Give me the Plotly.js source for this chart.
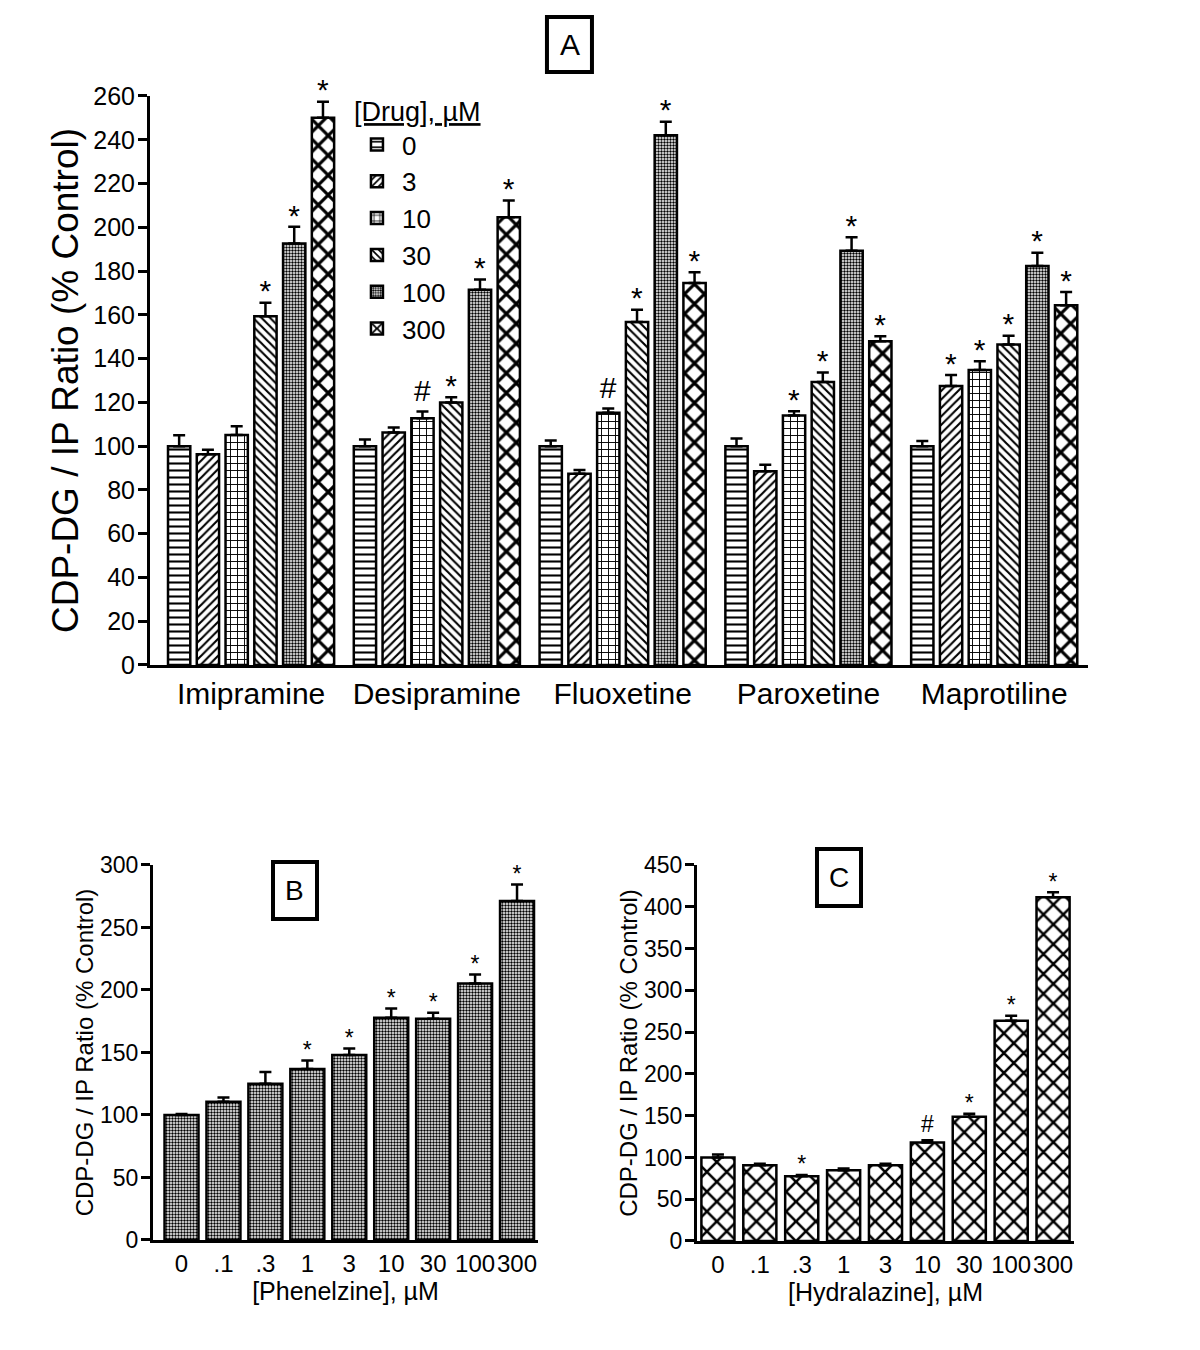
<!DOCTYPE html>
<html><head><meta charset="utf-8">
<script src="https://cdn.plot.ly/plotly-3.0.1.min.js"></script>
<style>html,body{margin:0;padding:0;background:#fff}</style>
</head><body><div id="chart" style="width:1200px;height:1350px"></div>
<script>
// ---------- Panel A data ----------
const drugs = ['Imipramine', 'Desipramine', 'Fluoxetine', 'Paroxetine', 'Maprotiline'];
const doseLabels = ['0', '3', '10', '30', '100', '300'];

const mean0   = [100, 100, 100, 100, 100];
const mean3   = [96.3, 106.2, 87.4, 88.5, 127.5];
const mean10  = [105.1, 112.8, 115.3, 114.0, 134.8];
const mean30  = [159.4, 120.0, 156.7, 129.3, 146.4];
const mean100 = [192.6, 171.5, 242.1, 189.3, 182.3];
const mean300 = [250.1, 204.6, 174.6, 147.9, 164.4];

const err0   = [5.0, 3.0, 2.6, 3.5, 2.3];
const err3   = [2.1, 2.3, 1.7, 3.0, 5.0];
const err10  = [4.0, 3.0, 1.9, 2.0, 4.0];
const err30  = [6.1, 2.3, 5.6, 4.4, 4.1];
const err100 = [7.6, 4.7, 6.1, 6.1, 6.1];
const err300 = [7.3, 7.7, 4.9, 2.3, 6.0];

const sig0   = ['', '', '', '', ''];
const sig3   = ['', '', '', '', '*'];
const sig10  = ['', '#', '#', '*', '*'];
const sig30  = ['*', '*', '*', '*', '*'];
const sig100 = ['*', '*', '*', '*', '*'];
const sig300 = ['*', '*', '*', '*', '*'];

// ---------- Panel B data ----------
const phenelzineDoses = ['0', '.1', '.3', '1', '3', '10', '30', '100', '300'];
const phenelzineMean  = [100, 110.7, 125.0, 136.8, 148.0, 177.9, 177.0, 205.3, 271.2];
const phenelzineErr   = [0.8, 3.4, 9.4, 6.9, 5.3, 7.4, 4.9, 7.2, 13.3];
const phenelzineSig   = ['', '', '', '*', '*', '*', '*', '*', '*'];

// ---------- Panel C data ----------
const hydralazineDoses = ['0', '.1', '.3', '1', '3', '10', '30', '100', '300'];
const hydralazineMean  = [100, 90.6, 77.5, 84.7, 90.6, 117.8, 148.6, 263.6, 411.3];
const hydralazineErr   = [3.4, 2.0, 1.5, 2.0, 2.0, 2.8, 3.6, 6.0, 6.0];
const hydralazineSig   = ['', '', '*', '', '', '#', '*', '*', '*'];

// ---------- styling ----------
const FONT = 'Liberation Sans, Arial, sans-serif';
const means = [mean0, mean3, mean10, mean30, mean100, mean300];
const errs  = [err0, err3, err10, err30, err100, err300];
const sigs  = [sig0, sig3, sig10, sig30, sig100, sig300];
const patterns = [
  {shape: '-',  size: 7,  solidity: 0.3},
  {shape: '/',  size: 6,  solidity: 0.35},
  {shape: '+',  size: 7,  solidity: 0.25},
  {shape: '\\', size: 6,  solidity: 0.35},
  {shape: '.',  size: 3,  solidity: 0.5},
  {shape: 'x',  size: 14, solidity: 0.4}
];

function dataBar(x, y, e, pat, ax, extra) {
  return Object.assign({
    type: 'bar', x: x, y: y, xaxis: ax[0], yaxis: ax[1],
    marker: {color: 'white', line: {color: 'black', width: 2.5},
      pattern: Object.assign({fgcolor: 'black', bgcolor: 'white', fillmode: 'replace'}, pat)},
    error_y: {type: 'data', symmetric: false, array: e, arrayminus: e.map(() => 0),
      color: 'black', thickness: 2.5, width: 6},
    hoverinfo: 'skip'
  }, extra);
}
// starDrop: how far (axis units) the label box is lowered for '*' (glyph sits high in its box)
function sigBar(x, y, e, s, ax, size, starDrop, extra) {
  return Object.assign({
    type: 'bar', x: x, y: y.map(() => 0.5),
    base: y.map((v, i) => v + e[i] - (s[i] === '*' ? starDrop : 0)),
    xaxis: ax[0], yaxis: ax[1], text: s, textposition: 'outside',
    textfont: {family: FONT, size: size, color: 'black'},
    constraintext: 'none', cliponaxis: false,
    marker: {color: 'rgba(0,0,0,0)', line: {width: 0}},
    showlegend: false, hoverinfo: 'skip'
  }, extra);
}

const traces = [];
for (let j = 0; j < doseLabels.length; j++) {
  traces.push(dataBar(drugs, means[j], errs[j], patterns[j], ['x', 'y'],
    {name: doseLabels[j], offsetgroup: 'd' + j, legendgroup: 'd' + j}));
}
for (let j = 0; j < doseLabels.length; j++) {
  traces.push(sigBar(drugs, means[j], errs[j], sigs[j], ['x', 'y'], 30, 4, {offsetgroup: 'd' + j}));
}
traces.push(dataBar(phenelzineDoses, phenelzineMean, phenelzineErr,
  {shape: '.', size: 3, solidity: 0.5}, ['x2', 'y2'], {offsetgroup: 'b', width: 0.81, showlegend: false}));
traces.push(sigBar(phenelzineDoses, phenelzineMean, phenelzineErr, phenelzineSig, ['x2', 'y2'], 23, 5,
  {offsetgroup: 'b', width: 0.81}));
traces.push(dataBar(hydralazineDoses, hydralazineMean, hydralazineErr,
  {shape: 'x', size: 14, solidity: 0.33}, ['x3', 'y3'], {offsetgroup: 'c', width: 0.79, showlegend: false}));
traces.push(sigBar(hydralazineDoses, hydralazineMean, hydralazineErr, hydralazineSig, ['x3', 'y3'], 23, 7,
  {offsetgroup: 'c', width: 0.79}));

const axLine = {showline: true, linecolor: 'black', linewidth: 3, showgrid: false, zeroline: false,
  fixedrange: true};
const yCommon = Object.assign({}, axLine, {ticks: 'outside', ticklen: 9, tickwidth: 3, tickcolor: 'black',
  ticklabelstandoff: -2});
const xCommon = Object.assign({}, axLine, {type: 'category', ticks: '', tickangle: 0});

const layout = {
  width: 1200, height: 1350,
  margin: {l: 0, r: 0, t: 0, b: 0},
  paper_bgcolor: 'white', plot_bgcolor: 'white',
  font: {family: FONT, color: 'black'},
  barmode: 'group', bargap: 0.071, bargroupgap: 0.225,
  xaxis: Object.assign({}, xCommon, {domain: [0.125, 0.9067], range: [-0.544, 4.505], anchor: 'y',
    tickfont: {size: 30}}),
  yaxis: Object.assign({}, yCommon, {domain: [0.50741, 0.92889], range: [0, 260], tick0: 0, dtick: 20,
    anchor: 'x', tickfont: {size: 25},
    title: {text: 'CDP-DG / IP Ratio (% Control)', font: {size: 37}, standoff: 4}}),
  xaxis2: Object.assign({}, xCommon, {domain: [0.1275, 0.44833], range: [-0.68, 8.5], anchor: 'y2',
    tickfont: {size: 24}, title: {text: '[Phenelzine], µM', font: {size: 25}, standoff: 4}}),
  yaxis2: Object.assign({}, yCommon, {domain: [0.08148, 0.35926], range: [0, 300], tick0: 0, dtick: 50,
    anchor: 'x2', tickfont: {size: 23},
    title: {text: 'CDP-DG / IP Ratio (% Control)', font: {size: 24}, standoff: 0}}),
  xaxis3: Object.assign({}, xCommon, {domain: [0.58083, 0.895], range: [-0.5, 8.5], anchor: 'y3',
    tickfont: {size: 24}, title: {text: '[Hydralazine], µM', font: {size: 25}, standoff: 4}}),
  yaxis3: Object.assign({}, yCommon, {domain: [0.08074, 0.35926], range: [0, 450], tick0: 0, dtick: 50,
    anchor: 'x3', tickfont: {size: 23},
    title: {text: 'CDP-DG / IP Ratio (% Control)', font: {size: 24}, standoff: 0}}),
  showlegend: true,
  legend: {x: 0.2933, y: 0.9363, xanchor: 'left', yanchor: 'top', bgcolor: 'rgba(0,0,0,0)',
    font: {size: 26}, itemwidth: 40, traceorder: 'grouped', tracegroupgap: 0,
    title: {text: '<u>[Drug], µM</u>', font: {size: 27}}},
  shapes: [
    {type: 'rect', xref: 'paper', yref: 'paper', x0: 0.4558, x1: 0.4933, y0: 0.94667, y1: 0.98741,
      line: {color: 'black', width: 4}},
    {type: 'rect', xref: 'paper', yref: 'paper', x0: 0.2275, x1: 0.26417, y0: 0.31926, y1: 0.36148,
      line: {color: 'black', width: 4}},
    {type: 'rect', xref: 'paper', yref: 'paper', x0: 0.68083, x1: 0.7175, y0: 0.32889, y1: 0.37111,
      line: {color: 'black', width: 4}}
  ],
  annotations: [
    {text: 'A', xref: 'paper', yref: 'paper', x: 0.4746, y: 0.96704, xanchor: 'center', yanchor: 'middle',
      showarrow: false, font: {size: 30}},
    {text: 'B', xref: 'paper', yref: 'paper', x: 0.24583, y: 0.34037, xanchor: 'center', yanchor: 'middle',
      showarrow: false, font: {size: 28}},
    {text: 'C', xref: 'paper', yref: 'paper', x: 0.69917, y: 0.35, xanchor: 'center', yanchor: 'middle',
      showarrow: false, font: {size: 28}}
  ]
};

Plotly.newPlot('chart', traces, layout, {displayModeBar: false, staticPlot: true});
</script>
</body></html>
